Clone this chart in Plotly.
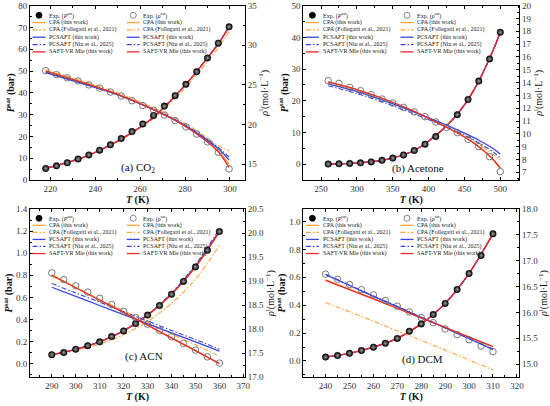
import plotly.graph_objects as go

# ---------------- data ----------------
model_names = ["CPA (this work)", "CPA (Follegatti et al., 2021)", "PCSAFT (this work)",
               "PCSAFT (Niu et al., 2025)", "SAFT-VR Mie (this work)"]

# (a) CO2
co2_T = [218, 222.8, 227.6, 232.4, 237.2, 242, 246.8, 251.6, 256.4, 261.2, 266, 270.8,
         275.6, 280.4, 285.2, 290, 294.8, 299.6]
co2_P = [5.3, 6.5, 7.9, 9.6, 11.5, 13.7, 16.2, 19.0, 22.2, 25.7, 29.6, 33.9, 38.7, 43.9,
         49.7, 56.0, 62.8, 70.3]
co2_rho = [26.8, 26.3, 25.9, 25.5, 25.0, 24.6, 24.1, 23.6, 23.0, 22.4, 21.8, 21.2, 20.5,
           19.7, 18.8, 17.8, 16.5, 14.4]
co2_T_line = [218, 235, 250, 265, 280, 290, 295, 299.6]
co2_P_lines = [
    [5.3, 10.5, 17.9, 28.0, 43.4, 56.0, 62.8, 70.2],
    [5.2, 10.3, 17.5, 27.3, 42.2, 54.3, 61.0, 68.0],
    [5.3, 10.5, 17.9, 28.0, 43.4, 56.0, 62.8, 70.3],
    [5.3, 10.5, 17.9, 28.1, 43.6, 56.2, 63.0, 70.5],
    [5.3, 10.5, 17.9, 28.0, 43.4, 56.0, 62.8, 70.3],
]
co2_rho_lines = [
    [26.8, 25.3, 23.85, 22.05, 19.85, 17.85, 16.6, 15.0],
    [26.9, 25.45, 24.0, 22.25, 20.15, 18.3, 17.3, 16.7],
    [26.55, 25.1, 23.75, 22.0, 19.9, 18.0, 16.9, 15.5],
    [26.6, 25.15, 23.8, 22.05, 19.95, 18.1, 17.05, 15.9],
    [26.75, 25.25, 23.8, 22.0, 19.8, 17.8, 16.5, 14.6],
]

# (b) Acetone
ace_T_P = [260, 275, 290, 305, 320, 335, 350, 365, 380, 395, 410, 440, 455, 470, 485, 500]
ace_P = [0.04, 0.1, 0.21, 0.4, 0.7, 1.2, 1.9, 2.9, 4.3, 6.3, 8.7, 15.6, 20.4, 26.2, 33.2, 41.6]
ace_T_rho = [260, 275, 290, 305, 320, 335, 350, 365, 380, 395, 410, 425, 440, 455, 470, 485, 500]
ace_rho = [14.15, 13.94, 13.63, 13.37, 13.06, 12.72, 12.41, 12.07, 11.71, 11.34, 10.93,
           10.5, 10.09, 9.57, 9.0, 8.22, 7.05]
ace_T_line = [260, 300, 340, 380, 420, 450, 470, 490, 500]
ace_P_lines = [
    [0.04, 0.33, 1.4, 4.3, 11.0, 18.7, 26.2, 35.9, 41.6],
    [0.04, 0.33, 1.4, 4.3, 11.0, 18.7, 26.2, 35.9, 41.6],
    [0.04, 0.33, 1.4, 4.3, 11.0, 18.7, 26.2, 35.9, 41.6],
    [0.04, 0.33, 1.4, 4.3, 11.0, 18.8, 26.3, 36.0, 41.8],
    [0.04, 0.33, 1.4, 4.3, 11.0, 18.7, 26.2, 35.9, 41.6],
]
ace_rho_lines = [
    [14.05, 13.45, 12.68, 11.75, 10.65, 9.75, 9.0, 8.0, 7.35],
    [14.0, 13.4, 12.62, 11.7, 10.65, 9.85, 9.2, 8.4, 7.95],
    [13.9, 13.3, 12.55, 11.7, 10.8, 10.05, 9.5, 8.85, 8.4],
    [13.75, 13.15, 12.4, 11.55, 10.65, 9.9, 9.3, 8.6, 8.1],
    [14.05, 13.45, 12.68, 11.75, 10.65, 9.75, 9.0, 8.0, 7.3],
]

# (c) ACN
acn_T = [290, 295, 300, 305, 310, 315, 320, 325, 330, 335, 340, 345, 350, 355, 360]
acn_P = [0.082, 0.102, 0.131, 0.163, 0.198, 0.247, 0.297, 0.364, 0.44, 0.527, 0.629,
         0.745, 0.876, 1.027, 1.196]
acn_rho = [19.17, 19.03, 18.9, 18.77, 18.64, 18.51, 18.37, 18.24, 18.1, 17.97, 17.84,
           17.7, 17.56, 17.42, 17.29]
acn_T_line = [290, 300, 310, 320, 330, 340, 350, 360]
acn_P_lines = [
    [0.082, 0.131, 0.198, 0.297, 0.437, 0.625, 0.872, 1.19],
    [0.075, 0.118, 0.178, 0.262, 0.382, 0.545, 0.765, 1.07],
    [0.082, 0.131, 0.198, 0.297, 0.44, 0.632, 0.882, 1.2],
    [0.083, 0.133, 0.2, 0.3, 0.445, 0.64, 0.895, 1.22],
    [0.082, 0.131, 0.198, 0.297, 0.44, 0.629, 0.876, 1.196],
]
acn_rho_lines = [
    [19.13, 18.87, 18.61, 18.35, 18.08, 17.82, 17.55, 17.28],
    [19.1, 18.86, 18.62, 18.38, 18.14, 17.9, 17.67, 17.43],
    [18.87, 18.68, 18.49, 18.3, 18.11, 17.92, 17.73, 17.54],
    [18.95, 18.75, 18.56, 18.36, 18.17, 17.97, 17.78, 17.58],
    [19.12, 18.86, 18.6, 18.34, 18.08, 17.81, 17.55, 17.28],
]

# (d) DCM
dcm_T = [240, 245, 250, 255, 260, 265, 270, 275, 280, 285, 290, 295, 300, 305, 310]
dcm_P = [0.028, 0.039, 0.055, 0.076, 0.099, 0.127, 0.162, 0.213, 0.266, 0.333, 0.413,
         0.513, 0.628, 0.757, 0.912]
dcm_rho = [16.74, 16.64, 16.54, 16.44, 16.34, 16.23, 16.12, 16.01, 15.9, 15.8, 15.68,
           15.57, 15.47, 15.35, 15.24]
dcm_T_line = [240, 250, 260, 270, 280, 290, 300, 310]
dcm_P_lines = [
    [0.028, 0.055, 0.099, 0.162, 0.266, 0.413, 0.628, 0.915],
    [0.028, 0.055, 0.099, 0.163, 0.267, 0.415, 0.63, 0.918],
    [0.028, 0.055, 0.099, 0.162, 0.266, 0.413, 0.628, 0.912],
    [0.028, 0.055, 0.099, 0.162, 0.266, 0.413, 0.628, 0.912],
    [0.028, 0.055, 0.099, 0.162, 0.266, 0.413, 0.628, 0.912],
]
dcm_rho_lines = [
    [16.63, 16.45, 16.27, 16.08, 15.9, 15.71, 15.52, 15.33],
    [16.19, 16.01, 15.83, 15.64, 15.46, 15.27, 15.08, 14.89],
    [16.73, 16.52, 16.31, 16.11, 15.9, 15.7, 15.49, 15.28],
    [16.74, 16.53, 16.32, 16.12, 15.91, 15.71, 15.5, 15.29],
    [16.62, 16.44, 16.26, 16.08, 15.89, 15.71, 15.52, 15.34],
]

# ---------------- styles ----------------
FONT = "Liberation Serif"
ORANGE = "#FFA43A"
BLUE = "#3C46E0"
RED = "#EE2A2A"
DASHDOT = "5px,2px,1.5px,2px"
model_colors = [ORANGE, ORANGE, BLUE, BLUE, RED]
model_dashes = ["solid", DASHDOT, "solid", DASHDOT, "solid"]
model_widths = [1.3, 1.1, 1.3, 1.1, 1.3]

panels = [
    dict(n=1, ov=5, xdom=[0.0545, 0.4455], ydom=[0.5567, 0.986], xr=[211, 306.7], dx=20,
         yr=[0, 80], dy=10, y2r=[13, 35], dy2=5, yfmt="", y2fmt="",
         T_P=co2_T, P=co2_P, T_rho=co2_T, rho=co2_rho, T_line=co2_T_line,
         P_lines=co2_P_lines, rho_lines=co2_rho_lines,
         label="(a) CO<sub>2</sub>", lx=0.5, ly=0.07),
    dict(n=2, ov=6, xdom=[0.5515, 0.9442], ydom=[0.5567, 0.986], xr=[225.3, 526.5], dx=50,
         yr=[-5, 50], dy=10, y2r=[6.4, 20], dy2=1, yfmt="", y2fmt="",
         T_P=ace_T_P, P=ace_P, T_rho=ace_T_rho, rho=ace_rho, T_line=ace_T_line,
         P_lines=ace_P_lines, rho_lines=ace_rho_lines,
         label="(b) Acetone", lx=0.53, ly=0.065),
    dict(n=3, ov=7, xdom=[0.0545, 0.4455], ydom=[0.0714, 0.4852], xr=[280.9, 370.7], dx=10,
         yr=[-0.12, 1.4], dy=0.2, y2r=[17, 20.5], dy2=0.5, yfmt=".1f", y2fmt=".1f",
         T_P=acn_T, P=acn_P, T_rho=acn_T, rho=acn_rho, T_line=acn_T_line,
         P_lines=acn_P_lines, rho_lines=acn_rho_lines,
         label="(c) ACN", lx=0.53, ly=0.12),
    dict(n=4, ov=8, xdom=[0.5515, 0.9442], ydom=[0.0714, 0.4852], xr=[230.7, 321], dx=10,
         yr=[-0.115, 1.09], dy=0.2, y2r=[14.75, 18], dy2=0.5, yfmt=".1f", y2fmt=".1f",
         T_P=dcm_T, P=dcm_P, T_rho=dcm_T, rho=dcm_rho, T_line=dcm_T_line,
         P_lines=dcm_P_lines, rho_lines=dcm_rho_lines,
         label="(d) DCM", lx=0.55, ly=0.105),
]

fig = go.Figure()
tickfont = dict(family=FONT, size=9, color="#333333")
titlefont = dict(family=FONT, size=10, color="#111111")


def axis_common():
    return dict(showline=True, linecolor="black", linewidth=1, ticks="inside", ticklen=3,
                tickcolor="black", showgrid=False, zeroline=False, tickfont=tickfont,
                title_font=titlefont, automargin=False,
                minor=dict(ticks="inside", ticklen=2, tickcolor="black", showgrid=False))


layout_axes = {}
for p in panels:
    n, ov = p["n"], p["ov"]
    xs = "x" if n == 1 else f"x{n}"
    ys = "y" if n == 1 else f"y{n}"
    y2s = f"y{ov}"
    xkey = "xaxis" if n == 1 else f"xaxis{n}"
    ykey = "yaxis" if n == 1 else f"yaxis{n}"

    # model curves, P then rho
    for k in range(5):
        line = dict(color=model_colors[k], width=model_widths[k], dash=model_dashes[k],
                    shape="spline", smoothing=0.8)
        fig.add_trace(go.Scatter(x=p["T_line"], y=p["P_lines"][k], mode="lines", line=line,
                                 xaxis=xs, yaxis=ys, showlegend=False))
    for k in range(5):
        line = dict(color=model_colors[k], width=model_widths[k], dash=model_dashes[k],
                    shape="spline", smoothing=0.8)
        fig.add_trace(go.Scatter(x=p["T_line"], y=p["rho_lines"][k], mode="lines", line=line,
                                 xaxis=xs, yaxis=y2s, showlegend=False))
    # experimental points
    fig.add_trace(go.Scatter(
        x=p["T_P"], y=p["P"], mode="markers", xaxis=xs, yaxis=ys, showlegend=False,
        marker=dict(symbol="circle", size=6.5, color="black",
                    line=dict(color="black", width=0.5),
                    gradient=dict(type="radial", color="#a0a0a0"))))
    fig.add_trace(go.Scatter(
        x=p["T_rho"], y=p["rho"], mode="markers", xaxis=xs, yaxis=y2s, showlegend=False,
        marker=dict(symbol="circle-open", size=6.5, color="#6a6a6a", line=dict(width=0.9))))

    ax = axis_common()
    ax.update(domain=p["xdom"], anchor=ys, range=p["xr"], dtick=p["dx"], mirror="ticks",
              title=dict(text="<b><i>T</i> (K)</b>", standoff=1))
    ax["minor"]["dtick"] = p["dx"] / 2
    layout_axes[xkey] = ax

    ay = axis_common()
    ay.update(domain=p["ydom"], anchor=xs, range=p["yr"], dtick=p["dy"], tickformat=p["yfmt"],
              title=dict(text="<b><i>P</i><sup>sat</sup> (bar)</b>", standoff=1))
    ay["minor"]["dtick"] = p["dy"] / 2
    layout_axes[ykey] = ay

    ay2 = axis_common()
    ay2.update(overlaying=ys, anchor=xs, side="right", range=p["y2r"], dtick=p["dy2"],
               tickformat=p["y2fmt"],
               title=dict(text="<i>ρ</i><sup>l</sup>(mol·L<sup>−1</sup>)", standoff=0))
    ay2["minor"]["dtick"] = p["dy2"] / 2
    layout_axes[f"yaxis{ov}"] = ay2

    # in-panel legend (two columns) drawn with shapes and text
    xref = f"{xs} domain"
    yref = f"{ys} domain"
    rows = [0.945, 0.903, 0.861, 0.819, 0.777, 0.735]
    cols = [(0.012, 0.072, 0.08, "<i>P</i><sup>sat</sup>", True),
            (0.45, 0.51, 0.518, "<i>ρ</i><sup>sat</sup>", False)]
    for gx0, gx1, tx, qty, filled in cols:
        fig.add_shape(type="circle", xref=xref, yref=yref, xsizemode="pixel",
                      ysizemode="pixel", xanchor=(gx0 + gx1) / 2, yanchor=rows[0],
                      x0=-3, x1=3, y0=-3, y1=3,
                      fillcolor="black" if filled else "rgba(0,0,0,0)",
                      line=dict(color="black" if filled else "#6a6a6a", width=0.8))
        fig.add_annotation(x=tx, y=rows[0], xref=xref, yref=yref, xanchor="left",
                           yanchor="middle", showarrow=False, text=f"Exp. ({qty})",
                           font=dict(family=FONT, size=6, color="#222222"))
        for k, name in enumerate(model_names):
            fig.add_shape(type="line", xref=xref, yref=yref, x0=gx0, x1=gx1,
                          y0=rows[k + 1], y1=rows[k + 1],
                          line=dict(color=model_colors[k], width=1.3, dash=model_dashes[k]))
            fig.add_annotation(x=tx, y=rows[k + 1], xref=xref, yref=yref, xanchor="left",
                               yanchor="middle", showarrow=False, text=name,
                               font=dict(family=FONT, size=6, color="#222222"))

    fig.add_annotation(x=p["lx"], y=p["ly"], xref=xref, yref=yref, showarrow=False,
                       xanchor="center", yanchor="middle",
                       text=p["label"], font=dict(family=FONT, size=11, color="#111111"))

fig.update_layout(
    width=550, height=406,
    margin=dict(l=0, r=0, t=0, b=0),
    paper_bgcolor="white", plot_bgcolor="white",
    font=dict(family=FONT),
    showlegend=False,
    **layout_axes,
)

# the page body has a default margin; drop it so the figure fills the window
fig.write_html("out.html", config={"displayModeBar": False},
               post_script="document.body.style.margin = '0px';")
